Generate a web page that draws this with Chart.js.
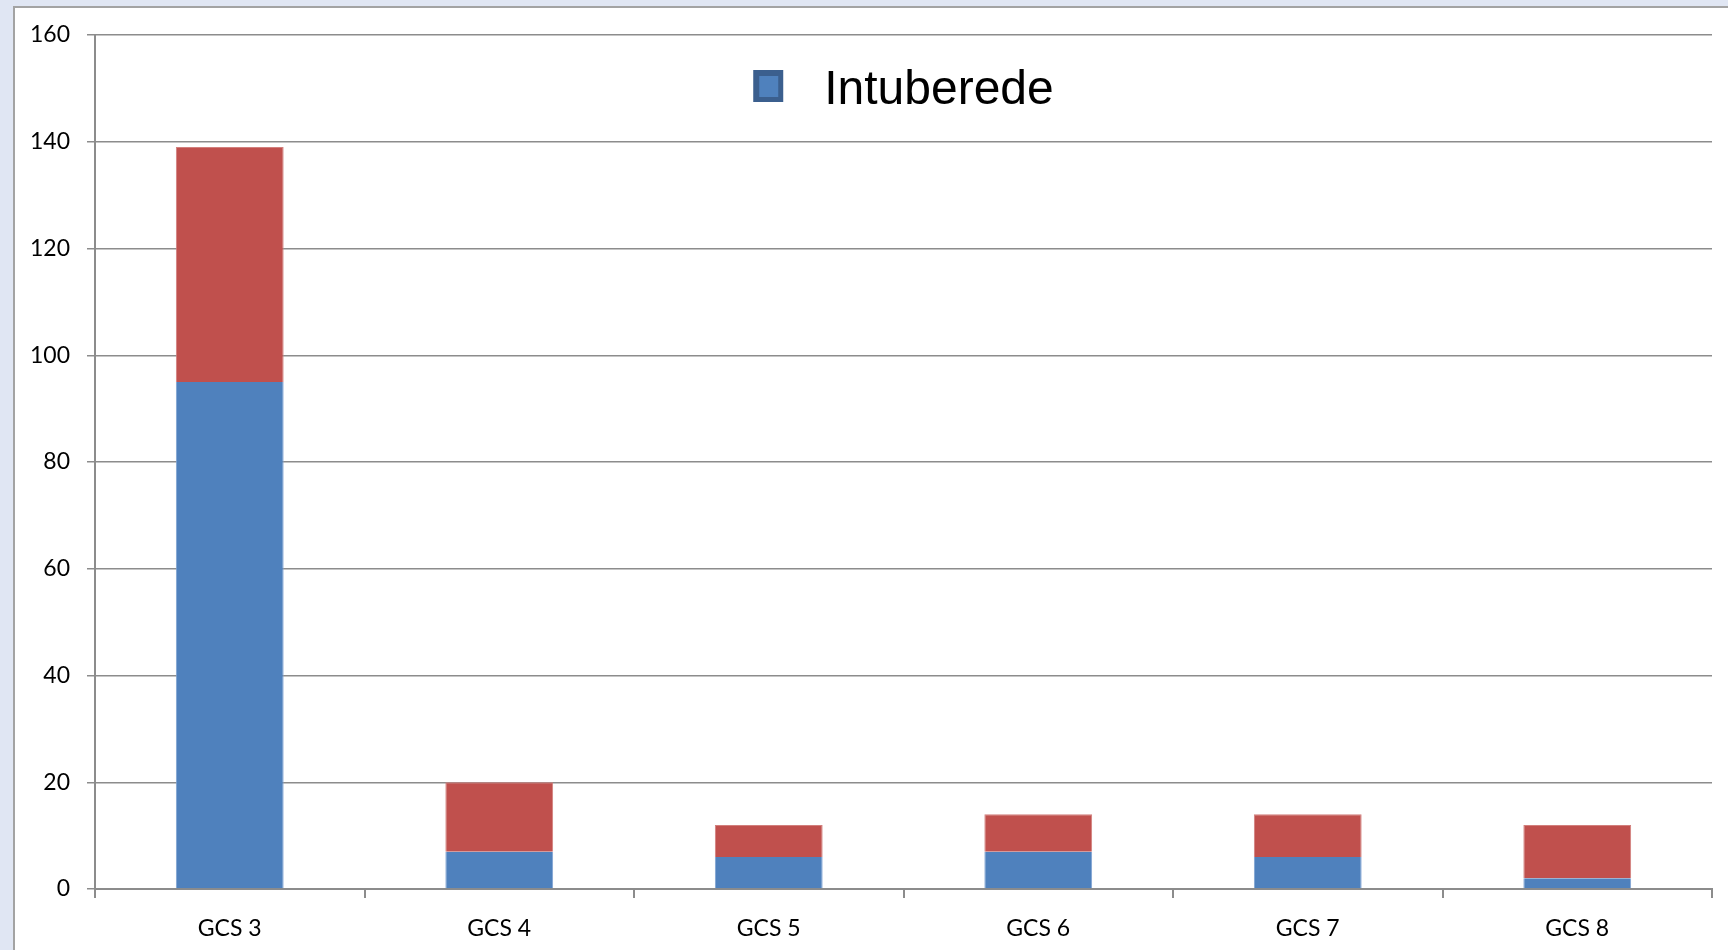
<!DOCTYPE html>
<html>
<head>
<meta charset="utf-8">
<script src="https://cdn.jsdelivr.net/npm/chart.js@4.4.1/dist/chart.umd.min.js"></script>
<style>
  html, body { margin: 0; padding: 0; width: 1728px; height: 950px; overflow: hidden; background: #e0e6f3; }
  #panel { position: absolute; left: 13px; top: 6px; width: 1800px; height: 1000px; background: #ffffff; border: 2px solid #a3a3a3; box-sizing: border-box; }
  #wrap { position: absolute; left: 0; top: 0; width: 1728px; height: 950px; }
</style>
</head>
<body>
<div id="panel"></div>
<div id="wrap"><canvas id="c" width="1728" height="950"></canvas></div>
<script>
const categories = ['GCS 3', 'GCS 4', 'GCS 5', 'GCS 6', 'GCS 7', 'GCS 8'];
const intuberede = [95, 7, 6, 7, 6, 2];
const ikkeIntuberede = [44, 13, 6, 7, 8, 10];
const yTicks = [0, 20, 40, 60, 80, 100, 120, 140, 160];
const seriesNames = ['Intuberede', ''];

const legendPlugin = {
  id: 'topLegend',
  afterDraw(chart) {
    const ctx = chart.ctx;
    const ca = chart.chartArea;
    const ds = chart.data.datasets[0];
    ctx.save();
    ctx.font = '48px "Liberation Sans", Arial, sans-serif';
    const tw = ctx.measureText(ds.label).width;
    const box = 30, gap = 41;
    const total = box + gap + tw;
    const x0 = (ca.left + ca.right) / 2 - total / 2;
    const yTop = 70;
    ctx.fillStyle = '#3b5f8e';
    ctx.fillRect(x0, yTop, box, 32);
    ctx.fillStyle = '#4f81bd';
    ctx.fillRect(x0 + 6, yTop + 6, box - 11, 32 - 11);
    ctx.fillStyle = '#000000';
    ctx.textBaseline = 'alphabetic';
    ctx.textAlign = 'left';
    ctx.fillText(ds.label, x0 + box + gap, 104);
    ctx.restore();
  }
};

new Chart(document.getElementById('c'), {
  type: 'bar',
  data: {
    labels: categories,
    datasets: [
      { label: seriesNames[0], data: intuberede, backgroundColor: '#4f81bd', borderColor: '#7fa3d3', borderWidth: { left: 1, right: 1, top: 0, bottom: 0 }, borderSkipped: false, barPercentage: 0.4, categoryPercentage: 1.0 },
      { label: seriesNames[1], data: ikkeIntuberede, backgroundColor: '#c0504d', borderColor: '#d27f7c', borderWidth: { left: 1, right: 1, top: 1, bottom: 0 }, borderSkipped: false, barPercentage: 0.4, categoryPercentage: 1.0 }
    ]
  },
  options: {
    responsive: false,
    animation: false,
    devicePixelRatio: 1,
    layout: { padding: { left: 0, right: 16, top: 35, bottom: 0 } },
    plugins: { legend: { display: false }, tooltip: { enabled: false } },
    scales: {
      x: {
        stacked: true,
        afterFit(s) { s.height = 61; },
        grid: { display: true, drawOnChartArea: false, drawTicks: true, tickLength: 9, color: '#8c8c8c', lineWidth: 2, offset: true },
        border: { display: true, color: '#8c8c8c', width: 2 },
        ticks: { color: '#000000', font: { family: 'Lato', size: 23 }, padding: 17 }
      },
      y: {
        stacked: true,
        min: 0, max: 160,
        afterFit(s) { s.width = 95; },
        afterBuildTicks(s) { s.ticks = yTicks.map(v => ({ value: v })); },
        grid: { color: '#8c8c8c', lineWidth: 1.5, drawTicks: true, tickLength: 8 },
        border: { display: true, color: '#8c8c8c', width: 2 },
        ticks: { color: '#000000', font: { family: 'Lato', size: 23 }, padding: 17 }
      }
    }
  },
  plugins: [legendPlugin]
});
</script>
</body>
</html>
